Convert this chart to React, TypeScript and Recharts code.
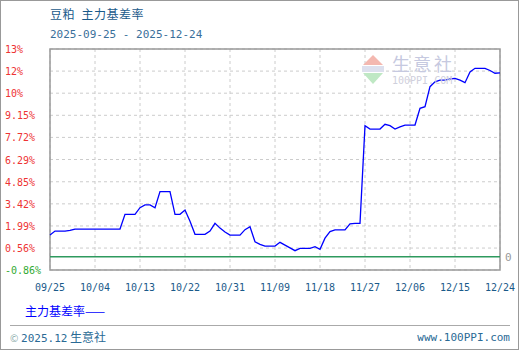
import React from 'react';
import { LineChart, Line, XAxis, YAxis, CartesianGrid, ReferenceLine, ReferenceArea } from 'recharts';

// 主力基差率 (%), one value per calendar day from 09/25 to 12/24
const basisRate = [
  1.40, 1.66, 1.66, 1.66, 1.70, 1.79, 1.79, 1.79, 1.79, 1.79,
  1.79, 1.79, 1.79, 1.79, 1.79, 2.74, 2.74, 2.74, 3.17, 3.35,
  3.35, 3.17, 4.21, 4.21, 4.21, 2.74, 2.74, 3.02, 2.30, 1.45,
  1.45, 1.45, 1.66, 2.16, 1.85, 1.60, 1.40, 1.40, 1.40, 1.75,
  1.94, 0.97, 0.80, 0.69, 0.69, 0.69, 0.93, 0.75, 0.57, 0.39,
  0.54, 0.54, 0.54, 0.65, 0.48, 1.20, 1.62, 1.73, 1.73, 1.73,
  2.12, 2.16, 2.16, 8.48, 8.26, 8.26, 8.26, 8.57, 8.48, 8.26,
  8.40, 8.52, 8.52, 8.52, 9.60, 9.71, 11.00, 11.32, 11.43, 11.43,
  11.50, 11.54, 11.43, 11.26, 11.95, 12.19, 12.19, 12.19, 12.05, 11.87,
  11.90,
];

const xTicks = [0, 9, 18, 27, 36, 45, 54, 63, 72, 81, 90];
const xLabels = ['09/25', '10/04', '10/13', '10/22', '10/31', '11/09', '11/18', '11/27', '12/06', '12/15', '12/24'];

const yTicks = [-0.86, 0.56, 1.99, 3.42, 4.85, 6.29, 7.72, 9.15, 10.58, 12.01, 13.44];
const yLabels = ['-0.86%', '0.56%', '1.99%', '3.42%', '4.85%', '6.29%', '7.72%', '9.15%', '10%', '12%', '13%'];

const data = basisRate.map((v, i) => ({ day: i, rate: v }));

const mono = '"DejaVu Sans Mono", monospace';
const cjk = '"Noto Sans CJK SC", sans-serif';

const YTick = (props: any) => {
  const { y, payload } = props;
  const idx = yTicks.indexOf(payload.value);
  return (
    <text x={5} y={y + 4} fontSize={10} fontFamily={mono} fill={idx === 0 ? '#33aa33' : '#ee3333'} textAnchor='start'>
      {yLabels[idx]}
    </text>
  );
};

const XTick = (props: any) => {
  const { x, y, payload } = props;
  const idx = xTicks.indexOf(payload.value);
  return (
    <text x={x} y={y + 13} fontSize={10} fontFamily={mono} fill='#1a5a8a' textAnchor='middle'>
      {xLabels[idx]}
    </text>
  );
};

const App = () => {
  return (
    <div style={{ position: 'absolute', left: 0, top: 0, width: 520, height: 350, background: '#fff' }}>
      <div style={{ position: 'absolute', left: 0, top: 0, width: 519, height: 350, boxSizing: 'border-box', border: '1px solid #999' }} />
      <div style={{ position: 'absolute', left: 50, top: 6, fontSize: 12, letterSpacing: 0.5, fontFamily: cjk, color: '#1a5a8a', lineHeight: '16px' }}>
        豆粕&nbsp;&nbsp;主力基差率
      </div>
      <div style={{ position: 'absolute', left: 50, top: 27, fontSize: 11, fontFamily: mono, color: '#3a6f9a', lineHeight: '16px' }}>
        2025-09-25 - 2025-12-24
      </div>
      <LineChart width={520} height={350} data={data} margin={{ top: 49, right: 20, bottom: 50, left: 0 }}>
        <CartesianGrid stroke='#cccccc' strokeDasharray='3 3' />
        <XAxis
          dataKey='day'
          type='number'
          domain={[0, 90]}
          ticks={xTicks}
          height={30}
          axisLine={false}
          tickLine={false}
          tick={<XTick />}
          interval={0}
        />
        <YAxis
          type='number'
          domain={[-0.86, 13.44]}
          ticks={yTicks}
          width={50}
          axisLine={false}
          tickLine={false}
          tick={<YTick />}
          interval={0}
        />
        <ReferenceArea x1={0} x2={90} y1={-0.86} y2={13.44} fill='none' stroke='#999' strokeWidth={1.5} />
        <ReferenceLine y={0} stroke='#2e9a5e' strokeWidth={1.5} label={{ value: '0', position: 'right', fill: '#999', fontSize: 11, fontFamily: mono }} />
        <Line type='linear' dataKey='rate' stroke='#0000ff' strokeWidth={1.3} dot={false} isAnimationActive={false} />
      </LineChart>
      {/* watermark */}
      <svg style={{ position: 'absolute', left: 350, top: 46, pointerEvents: 'none', overflow: 'visible' }} width={130} height={46}>
        <polygon points='13,19 23,9 33,19' fill='#f4b8b0' />
        <rect x={12} y={20} width={22} height={6} fill='#dde0ee' />
        <polygon points='13,27 33,27 23,38' fill='#bfe8c4' />
        <text x={42} y={25} fontSize={18} fontFamily={cjk} fill='#c6c9e0' letterSpacing={3}>生意社</text>
        <text x={42} y={38} fontSize={10} fontFamily={mono} fill='#cfd0dc'>100PPI.COM</text>
      </svg>
      <div style={{ position: 'absolute', left: 25, top: 303, fontSize: 12, fontFamily: cjk, color: '#0000ff', lineHeight: '16px' }}>
        主力基差率——
      </div>
      <div style={{ position: 'absolute', left: 10, top: 325, width: 500, height: 1, background: '#aaa' }} />
      <div style={{ position: 'absolute', left: 10, top: 329, fontSize: 12, fontFamily: cjk, color: '#2a6a95', lineHeight: '16px' }}>
        <span style={{ fontSize: 10, color: '#8aa' }}>©</span> <span style={{ fontFamily: mono, fontSize: 11 }}>2025.12</span> 生意社
      </div>
      <div style={{ position: 'absolute', right: 10, top: 330, fontSize: 11, fontFamily: mono, color: '#2a6a95', lineHeight: '16px' }}>
        www.100PPI.com
      </div>
    </div>
  );
};

export default App;
